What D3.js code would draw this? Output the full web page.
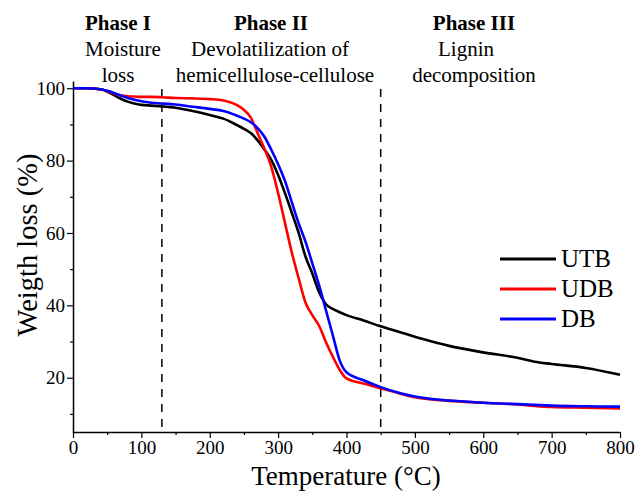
<!DOCTYPE html>
<html>
<head>
<meta charset="utf-8">
<script src="https://cdn.jsdelivr.net/npm/d3@7"></script>
<style>
  html, body { margin: 0; padding: 0; background: #fff; }
  svg { display: block; }
  text { font-family: "Liberation Serif", "Times New Roman", Times, serif; fill: #000; }
</style>
</head>
<body>
<svg id="chart" width="638" height="491"></svg>
<script>
// ---- Data ----
const temperatures = [0, 20, 40, 50, 60, 70, 80, 90, 100, 115, 130, 150, 175, 200, 220, 240, 250, 260, 270, 280, 290, 300, 310, 320, 330, 340, 350, 360, 370, 380, 390, 400, 425, 450, 475, 500, 525, 550, 600, 650, 675, 700, 750, 800];
const utb = [100, 100, 99.7, 99.1, 98.1, 97.1, 96.3, 95.8, 95.4, 95.2, 95.0, 94.6, 93.7, 92.6, 91.6, 89.8, 88.8, 87.6, 85.6, 83.1, 80.2, 76.0, 71.0, 65.6, 60.0, 53.5, 48.8, 43.6, 40.3, 39.0, 38.1, 37.3, 35.8, 34.2, 32.8, 31.3, 30.0, 28.8, 27.0, 25.5, 24.4, 23.8, 22.7, 20.8];
const udb = [100, 100, 99.7, 99.2, 98.5, 98.0, 97.8, 97.7, 97.6, 97.6, 97.5, 97.3, 97.2, 97.0, 96.6, 95.3, 94.0, 91.9, 87.6, 83.3, 78.3, 71.0, 62.8, 54.6, 47.5, 40.8, 37.3, 34.3, 29.8, 25.8, 22.2, 19.8, 18.4, 17.1, 15.8, 14.6, 14.0, 13.6, 13.1, 12.6, 12.2, 11.9, 11.7, 11.5];
const db  = [100, 100, 99.7, 99.3, 98.7, 98.0, 97.3, 96.8, 96.4, 96.0, 95.8, 95.5, 94.9, 94.3, 93.7, 92.4, 91.6, 90.6, 89.0, 86.6, 83.0, 79.0, 74.4, 68.5, 62.7, 57.6, 51.6, 45.5, 38.6, 31.7, 24.8, 21.5, 19.3, 17.4, 15.9, 14.8, 14.1, 13.7, 13.1, 12.7, 12.5, 12.3, 12.1, 12.0];
const seriesNames = ["UTB", "UDB", "DB"];
const seriesColors = ["#000000", "#ff0000", "#0000ff"];
const xTicks = [0, 100, 200, 300, 400, 500, 600, 700, 800];
const xMinorTicks = [50, 150, 250, 350, 450, 550, 650, 750];
const yTicks = [20, 40, 60, 80, 100];
const yMinorTicks = [10, 30, 50, 70, 90];
const phaseBounds = [130, 450];
const phaseTitles = ["Phase I", "Phase II", "Phase III"];
const phaseLines = [["Moisture", "loss"], ["Devolatilization of", "hemicellulose-cellulose"], ["Lignin", "decomposition"]];
const phaseCenters = [[118, 123, 118], [271, 270, 275], [474, 466, 474]];

// ---- Chart ----
const svg = d3.select("#chart");
const x = d3.scaleLinear().domain([0, 800]).range([73, 620]);
const y = d3.scaleLinear().domain([5, 102]).range([432, 81]);
const FONT = "Liberation Serif, Times New Roman, serif";

// minor ticks
const xMinor = d3.axisBottom(x).tickValues(xMinorTicks).tickSize(3).tickFormat("");
svg.append("g").attr("transform", "translate(0,432)").call(xMinor)
  .call(g => g.select(".domain").remove())
  .call(g => g.selectAll("line").attr("stroke-width", 1.2));
const yMinor = d3.axisLeft(y).tickValues(yMinorTicks).tickSize(3).tickFormat("");
svg.append("g").attr("transform", "translate(73,0)").call(yMinor)
  .call(g => g.select(".domain").remove())
  .call(g => g.selectAll("line").attr("stroke-width", 1.2));

// major axes
const xAxis = d3.axisBottom(x).tickValues(xTicks).tickSize(6).tickSizeOuter(0).tickPadding(3);
svg.append("g").attr("transform", "translate(0,432)").call(xAxis)
  .attr("font-family", FONT)
  .call(g => g.select(".domain").attr("stroke-width", 1.5))
  .call(g => g.selectAll("line").attr("stroke-width", 1.2))
  .call(g => g.selectAll("text").attr("font-size", 19));
const yAxis = d3.axisLeft(y).tickValues(yTicks).tickSize(6).tickSizeOuter(0).tickPadding(2);
svg.append("g").attr("transform", "translate(73,0)").call(yAxis)
  .attr("font-family", FONT)
  .call(g => g.select(".domain").attr("stroke-width", 1.5))
  .call(g => g.selectAll("line").attr("stroke-width", 1.2))
  .call(g => g.selectAll("text").attr("font-size", 19));

// dashed phase boundaries
svg.selectAll(".phase-line").data(phaseBounds).enter().append("line")
  .attr("x1", d => x(d)).attr("x2", d => x(d))
  .attr("y1", 89).attr("y2", 432)
  .attr("stroke", "#000").attr("stroke-width", 1.5)
  .attr("stroke-dasharray", "8,7");

// curves
const line = d3.line().x((d, i) => x(temperatures[i])).y(d => y(d)).curve(d3.curveMonotoneX);
[utb, udb, db].forEach((s, k) => {
  svg.append("path").datum(s)
    .attr("d", line)
    .attr("fill", "none")
    .attr("stroke", seriesColors[k])
    .attr("stroke-width", 2.6)
    .attr("stroke-linejoin", "round");
});

// phase annotations
phaseTitles.forEach((t, i) => {
  svg.append("text").attr("x", phaseCenters[i][0]).attr("y", 30)
    .attr("text-anchor", "middle").attr("font-size", 21).attr("font-weight", "bold").text(t);
  phaseLines[i].forEach((l, j) => {
    svg.append("text").attr("x", phaseCenters[i][j + 1]).attr("y", 56 + j * 25.5)
      .attr("text-anchor", "middle").attr("font-size", 21).text(l);
  });
});

// legend
seriesNames.forEach((n, k) => {
  const yy = 259 + k * 30;
  svg.append("line").attr("x1", 500).attr("x2", 556).attr("y1", yy).attr("y2", yy)
    .attr("stroke", seriesColors[k]).attr("stroke-width", 3);
  svg.append("text").attr("x", 561).attr("y", yy + 8).attr("font-size", 25).text(n);
});

// axis titles
svg.append("text").attr("x", 346).attr("y", 485).attr("text-anchor", "middle")
  .attr("font-size", 27).text("Temperature (°C)");
svg.append("text").attr("transform", "translate(37,245) rotate(-90)")
  .attr("text-anchor", "middle").attr("font-size", 28.5).text("Weigth loss (%)");
</script>
</body>
</html>
